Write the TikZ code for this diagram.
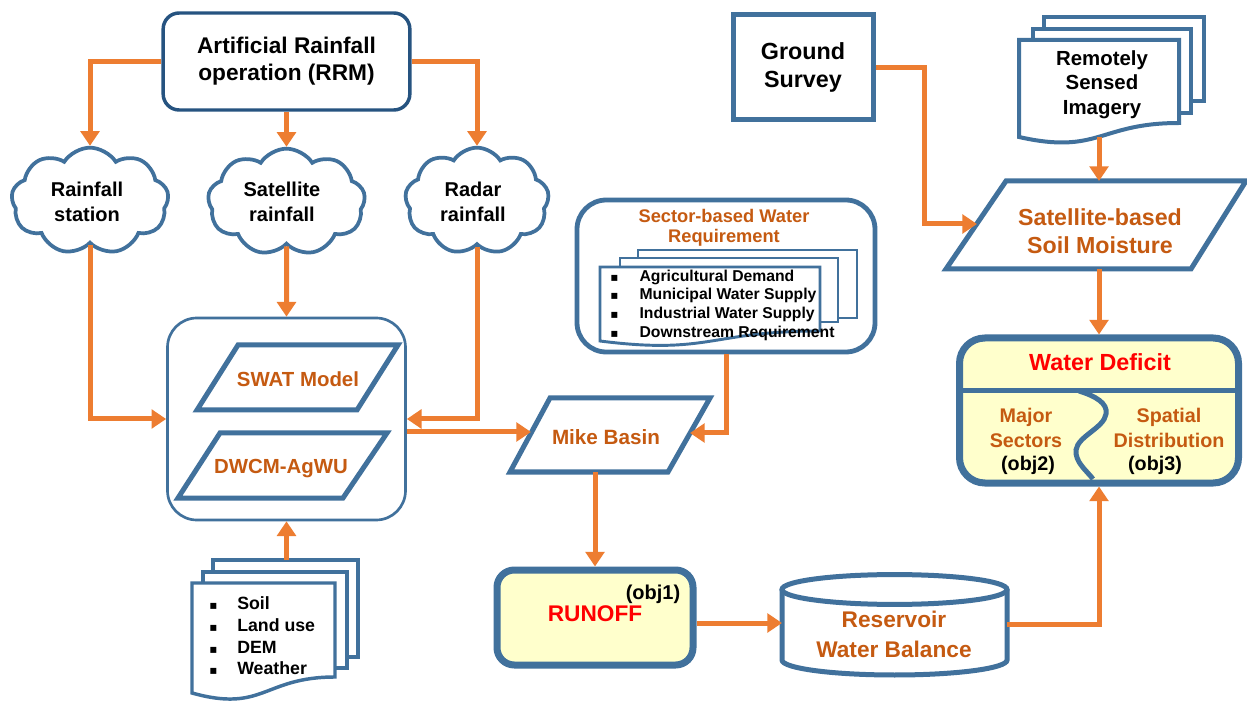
\documentclass[tikz,border=0pt]{standalone}
\usepackage{fontspec}
\setmainfont{Liberation Sans}
\newfontfamily\dejavu{DejaVu Sans}
\usetikzlibrary{arrows.meta,shapes.symbols}
\definecolor{dblue}{RGB}{38,83,128}
\definecolor{mblue}{RGB}{65,113,156}
\definecolor{arr}{RGB}{237,125,49}
\definecolor{otext}{RGB}{197,90,17}
\definecolor{lyel}{RGB}{255,255,204}
\newcommand\myfs[2]{\fontsize{#1}{#2}\selectfont\bfseries}
\newcommand\blt[1]{\makebox[#1][l]{\dejavu\fontsize{9}{9}\selectfont ▪}}
\begin{document}
\begin{tikzpicture}[x=0.75pt,y=-0.75pt,
  conn/.style={draw=arr,line width=3.75pt,-{Triangle[width=14pt,length=11pt]}},
  cloudbox/.style={cloud,draw=mblue,line width=2.8pt,cloud puffs=9,cloud puff arc=115,cloud ignores aspect,inner sep=0pt,fill=white},
  para/.style={draw=mblue,line width=3.75pt,fill=white,line join=miter},
  docst/.style={draw=mblue,line width=2.6pt,fill=white},
  lbl/.style={align=center,inner sep=0pt},
  blk/.style={lbl,text=black},
  org/.style={lbl,text=otext},
]
\useasboundingbox (0,0) rectangle (1247,702);
\fill[white] (0,0) rectangle (1247,702);

% top box
\node[draw=dblue,line width=2.6pt,rounded corners=12pt,minimum width=185pt,minimum height=72.75pt,fill=white,blk,font=\myfs{17}{20.3}] (rrm) at (286.5,61.5) {Artificial Rainfall\\operation (RRM)};

% clouds
\node[cloudbox,minimum width=118pt,minimum height=80pt] (c1) at (90,201) {};
\node[blk,font=\myfs{15}{19}] (c1t) at (87,202) {Rainfall\\station};
\node[cloudbox,minimum width=118pt,minimum height=80pt] (c2) at (286.5,202) {};
\node[blk,font=\myfs{15}{19}] (c2t) at (282,202) {Satellite\\rainfall};
\node[cloudbox,minimum width=108pt,minimum height=80pt] (c3) at (477,201) {};
\node[blk,font=\myfs{15}{19}] (c3t) at (473,202) {Radar\\rainfall};

% model box
\node[draw=mblue,line width=2pt,rounded corners=22pt,minimum width=178.5pt,minimum height=151.5pt] (model) at (286.5,419) {};
\draw[para] (238,345) -- (398,345) -- (357,410) -- (197,410) -- cycle;
\node[org,font=\myfs{15.3}{18}] (swat) at (298,379) {SWAT Model};
\draw[para] (220,433) -- (387,433) -- (343,498) -- (178,498) -- cycle;
\node[org,font=\myfs{15.3}{18}] (dwcm) at (281,469) {DWCM-AgWU};

% soil documents
\draw[docst] (213,560) rectangle (358,657);
\draw[docst] (203,572) rectangle (347,668);
\draw[docst] (192,583) -- (335,583) -- (335,677) .. controls (263.5,677) and (263.5,713) .. (192,693) -- cycle;
\coordinate (soiltop) at (286.5,560);
\node[anchor=west,align=left,inner sep=0pt,font=\myfs{13.3}{16.3}] (soil) at (209,636) {\blt{21pt}Soil\\\blt{21pt}Land use\\\blt{21pt}DEM\\\blt{21pt}Weather};

% sector box
\node[draw=mblue,line width=3.6pt,rounded corners=22pt,minimum width=223.5pt,minimum height=114pt,fill=white] (sector) at (726,276) {};
\node[org,font=\myfs{13.7}{15}] (sectitle) at (724,228) {Sector-based Water\\Requirement};
\draw[docst,line width=2.2pt] (638,250) rectangle (857,318);
\draw[docst,line width=2.2pt] (620,258) rectangle (838,322);
\draw[docst,line width=2.2pt] (600,267) -- (820,267) -- (820,331) .. controls (710,331) and (710,355) .. (600,341) -- cycle;
\node[anchor=west,align=left,inner sep=0pt,font=\myfs{11.8}{14}] (secl) at (610,305) {\blt{22pt}Agricultural Demand\\\blt{22pt}Municipal Water Supply\\\blt{22pt}Industrial Water Supply\\\blt{22pt}Downstream Requirement};

% Mike Basin
\draw[para] (550,398) -- (710,398) -- (668,472) -- (510,472) -- cycle;
\node[org,font=\myfs{15.5}{18}] (mike) at (606,437) {Mike Basin};
\coordinate (mikeW) at (531,432);
\coordinate (mikeE) at (690,433);
\coordinate (mikeS) at (595,472);

% RUNOFF
\node[draw=mblue,line width=5.25pt,rounded corners=13pt,fill=lyel,minimum width=147pt,minimum height=71.25pt] (runoff) at (595,617.5) {};
\node[lbl,text=red,font=\myfs{17}{20}] (runofft) at (595,614) {RUNOFF};
\node[blk,font=\myfs{15}{18}] (obj1) at (653,594) {(obj1)};

% Reservoir
\draw[draw=mblue,line width=3.75pt,fill=white] (782,589.5) -- (782,660) arc[start angle=180,end angle=360,x radius=84.4pt,y radius=11.25pt] -- (1007,589.5);
\draw[draw=mblue,line width=3.75pt,fill=white] (894.5,589.5) ellipse [x radius=84.4pt,y radius=11.2pt];
\node[org,font=\myfs{17}{22.5}] (res) at (894,634) {Reservoir\\Water Balance};
\coordinate (resW) at (782,623);
\coordinate (resE) at (1007,624);

% Ground survey
\node[draw=mblue,line width=3.75pt,minimum width=105pt,minimum height=78.75pt,fill=white,blk,font=\myfs{17.5}{20.3}] (gs) at (803,67.5) {Ground\\Survey};

% Remotely sensed
\draw[docst,line width=3pt] (1044,17) rectangle (1204,101);
\draw[docst,line width=3pt] (1033,29) rectangle (1191,113);
\draw[docst,line width=3pt] (1019,40) -- (1179,40) -- (1179,123) .. controls (1099,123) and (1099,155) .. (1019,137) -- cycle;
\node[blk,font=\myfs{15.3}{18.4}] (rsi) at (1102,84.5) {Remotely\\Sensed\\Imagery};
\coordinate (rsiS) at (1099,137);

% Satellite soil moisture
\draw[para] (1006,181) -- (1246,181) -- (1191,269) -- (946,269) -- cycle;
\node[org,font=\myfs{17.4}{21}] (sat) at (1100,231) {Satellite-based\\Soil Moisture};
\coordinate (satN) at (1099,181);
\coordinate (satS) at (1099,269);
\coordinate (satW) at (977,224);
\coordinate (gsbend) at (924,224);

% Water deficit
\node[draw=mblue,line width=5.25pt,rounded corners=19pt,fill=lyel,minimum width=209.25pt,minimum height=108.75pt] (wd) at (1099,410.5) {};
\coordinate (wdL) at (959,391);
\coordinate (wdR) at (1239,391);
\draw[mblue,line width=3.75pt] (wdL) -- (wdR);
\draw[mblue,line width=3.75pt] (1079,391) .. controls (1095,396) and (1108,403) .. (1106,414) .. controls (1104,428) and (1078,436) .. (1076,450) .. controls (1075,462) and (1086,470) .. (1093,479);
\node[lbl,text=red,font=\myfs{17.5}{20}] (wdt) at (1100,362) {Water Deficit};
\node[org,font=\myfs{14.8}{18.4}] (major) at (1026,428) {Major\\Sectors};
\node[blk,font=\myfs{14.8}{18.4}] (obj2) at (1028,465) {(obj2)};
\node[org,font=\myfs{14.8}{18.4}] (spatial) at (1169,428) {Spatial\\Distribution};
\node[blk,font=\myfs{14.8}{18.4}] (obj3) at (1155,465) {(obj3)};

% connectors
\draw[conn] (rrm.west) -| (c1.north);
\draw[conn] (rrm.south) -- (c2.north);
\draw[conn] (rrm.east) -| (c3.north);
\draw[conn] (c1.south) |- (model.west);
\draw[conn] (c2.south) -- (model.north);
\draw[conn] (c3.south) |- (model.east);
\draw[conn] ([yshift=-9.75pt]model.east) -- (mikeW);
\draw[conn] (sector.south) |- (mikeE);
\draw[conn] (mikeS) -- (runoff.north);
\draw[conn] (runoff.east |- resW) -- (resW);
\draw[conn] (resE) -| (wd.south);
\draw[conn] (gs.east) -| (gsbend) -- (satW);
\draw[conn] (rsiS) -- (satN);
\draw[conn] (satS) -- (wd.north);
\draw[conn] (soiltop) -- (model.south);
\end{tikzpicture}
\end{document}
